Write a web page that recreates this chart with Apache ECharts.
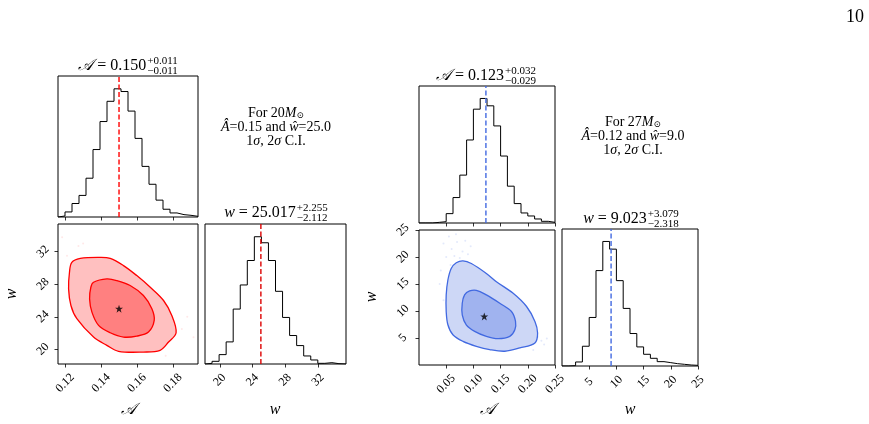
<!DOCTYPE html>
<html><head><meta charset="utf-8">
<script src="https://cdn.jsdelivr.net/npm/echarts@6/dist/echarts.min.js"></script>
<style>html,body{margin:0;padding:0;background:#fff}#c{width:869px;height:424px}</style>
</head><body><div id="c"></div><script>
// ---------------- data ----------------
const rangeA1 = [0.116, 0.194];
const rangeW1 = [18.2, 35.4];
const rangeA2 = [0, 0.25];
const rangeW2 = [0, 25];
const histA1 = [3,15,40,64,115,200,283,343,380,372,314,233,150,97,50,23,12,7,5,2];
const histW1 = [2,8,28,66,164,236,309,380,362,309,217,139,85,55,24,12,2,4,1,0];
const histA2 = [0,0,2,4,28,76,143,248,340,372,350,290,200,110,58,30,21,12,5,2];
const histW2 = [0,1,12,59,145,285,372,349,255,172,97,57,35,23,13,10,7,5,3,2];
const ticksA1 = [0.12,0.14,0.16,0.18];
const ticksW1 = [20,24,28,32];
const ticksA2 = [0.05,0.10,0.15,0.20,0.25];
const ticksW2 = [5,10,15,20,25];
const truth1 = [0.15, 25.0];
const truth2 = [0.12, 9.0];
const median1 = [0.150, 25.017];
const median2 = [0.123, 9.023];
const outer1 = [[0.1237,30.69],[0.1284,31.18],[0.1395,31.31],[0.1451,31.18],[0.1525,30.29],[0.1599,29.06],[0.1674,27.63],[0.1748,26.0],[0.1794,24.16],[0.1818,22.04],[0.1776,20.90],[0.1729,19.88],[0.1636,19.67],[0.1497,19.76],[0.1432,20.49],[0.1358,21.51],[0.1265,23.76],[0.1232,25.39],[0.1219,27.43],[0.1224,29.47]];
const inner1 = [[0.1358,28.24],[0.1432,28.65],[0.1488,28.45],[0.1562,27.84],[0.1636,26.61],[0.1683,24.98],[0.1696,23.55],[0.1664,22.12],[0.1599,21.63],[0.1525,21.51],[0.1451,22.04],[0.1386,22.94],[0.1349,24.57],[0.1336,26.20],[0.1343,27.63]];
const outer2 = [[0.0592,17.88],[0.0685,18.93],[0.0808,19.29],[0.0962,18.80],[0.1238,16.96],[0.1423,15.43],[0.1731,13.28],[0.1977,10.83],[0.2131,8.07],[0.2180,5.92],[0.2131,4.08],[0.1854,3.16],[0.1577,2.55],[0.1300,2.85],[0.1054,3.47],[0.0808,4.39],[0.0623,5.61],[0.0531,7.45],[0.0500,9.91],[0.0500,12.98],[0.0531,15.74]];
const inner2 = [[0.0838,12.98],[0.0931,13.71],[0.1054,13.83],[0.1238,12.98],[0.1485,11.44],[0.1700,9.91],[0.1774,8.07],[0.1762,6.53],[0.1669,5.31],[0.1454,4.88],[0.1238,5.31],[0.1023,6.23],[0.0869,7.45],[0.0795,9.29],[0.0795,11.44]];
const dots1 = [[0.1183,33.76],[0.1274,32.7],[0.185,22.5],[0.1915,21.5],[0.180,22.9],[0.188,24.0],[0.121,31.5],[0.176,19.2],[0.13,33.0]];
const dots2 = [[0.045,22.5],[0.055,23.8],[0.06,21.5],[0.065,20.2],[0.07,22.8],[0.075,19.8],[0.08,21.0],[0.085,23.0],[0.05,20.0],[0.058,18.5],[0.09,20.5],[0.04,17.5],[0.068,24.2],[0.095,22.0],[0.225,4.5],[0.23,3.8],[0.218,5.2],[0.235,4.9],[0.21,2.8],[0.038,15.0],[0.045,12.0]];

// ---------------- layout ----------------
const SERIF = '"Liberation Serif", "DejaVu Serif", serif';
const grids = [
  {left:58, top:76, width:140, height:141},
  {left:58, top:224, width:140, height:140},
  {left:205, top:224, width:141, height:140},
  {left:419, top:86, width:136, height:137},
  {left:419, top:230, width:136, height:135},
  {left:562, top:229, width:136, height:137}
].map(g => Object.assign({show:true, borderColor:'#000', borderWidth:1, backgroundColor:'transparent',
  containLabel:false, outerBoundsMode:'none'}, g));

function stepData(counts, range){
  const n = counts.length, w = (range[1]-range[0])/n;
  const d = [[range[0],0]];
  counts.forEach((c,i)=>d.push([range[0]+i*w, c]));
  d.push([range[1], counts[n-1]]);
  d.push([range[1], 0]);
  return d;
}
const maxOf = a => Math.max.apply(null, a);

function xAx(gi, range, ticks, showLabels, dec, margin){
  return {type:'value', gridIndex:gi, min:range[0], max:range[1], splitLine:{show:false},
    axisLine:{show:false},
    axisTick:{show:true, inside:false, length:3.5, lineStyle:{color:'#000', width:0.8}, customValues:ticks},
    axisLabel:{show:showLabels, customValues:ticks, rotate:45, align:'center', verticalAlign:'middle', margin:margin,
      formatter:v=>Number(v).toFixed(dec), fontFamily:SERIF, fontSize:12, color:'#000', hideOverlap:false}};
}
function yHist(gi, counts){
  return {type:'value', gridIndex:gi, min:0, max:1.1*maxOf(counts), show:true,
    axisLine:{show:false}, axisTick:{show:false}, axisLabel:{show:false}, splitLine:{show:false}};
}
function y2d(gi, range, ticks, margin){
  return {type:'value', gridIndex:gi, min:range[0], max:range[1], splitLine:{show:false},
    axisLine:{show:false},
    axisTick:{show:true, inside:false, length:3.5, lineStyle:{color:'#000', width:0.8}, customValues:ticks},
    axisLabel:{show:true, customValues:ticks, rotate:45, align:'center', verticalAlign:'middle', margin:margin,
      formatter:v=>String(Math.round(v)), fontFamily:SERIF, fontSize:12, color:'#000', hideOverlap:false}};
}

function histSeries(gi, counts, range){
  return {type:'line', xAxisIndex:gi, yAxisIndex:gi, step:'end', data:stepData(counts, range),
    symbol:'none', lineStyle:{color:'#000', width:1}, silent:true, z:3};
}
function vline(gi, x, counts, color){
  return {type:'line', xAxisIndex:gi, yAxisIndex:gi, data:[[x,0],[x,1.1*maxOf(counts)]],
    symbol:'none', lineStyle:{color:color, width:1.4, type:[5,2.5]}, silent:true, z:4};
}
function contour(gi, polys, fills, stroke){
  return {type:'custom', xAxisIndex:gi, yAxisIndex:gi, data:polys.map((p,i)=>[i]), silent:true, clip:true, z:3,
    renderItem:(params, api)=>{
      const pts = polys[params.dataIndex].map(p=>api.coord(p));
      return {type:'polygon', shape:{points:pts, smooth:0.35}, style:{fill:fills[params.dataIndex], stroke:stroke, lineWidth:1.3}};
    }};
}
function dots(gi, pts, color){
  return {type:'scatter', xAxisIndex:gi, yAxisIndex:gi, data:pts, symbolSize:2, itemStyle:{color:color}, silent:true, z:2};
}
function star(gi, p){
  return {type:'scatter', xAxisIndex:gi, yAxisIndex:gi, data:[p], symbol:'path://M0,-10 L2.35,-3.24 L9.51,-3.09 L3.8,1.24 L5.88,8.09 L0,4 L-5.88,8.09 L-3.8,1.24 L-9.51,-3.09 L-2.35,-3.24 Z',
    symbolSize:8, itemStyle:{color:'#000'}, silent:true, z:6};
}

// ---------------- titles / labels ----------------
const mctx = document.createElement('canvas').getContext('2d');
function tw(t, f){ mctx.font = f; return mctx.measureText(t).width; }
function mathTitle(cx, cy, varName, rest, sup, sub){
  const fv = 'italic 16px ' + SERIF, fm = '16px ' + SERIF, fs = '11px ' + SERIF;
  const wv = tw(varName, fv), wm = tw(rest, fm), ws = Math.max(tw(sup, fs), tw(sub, fs));
  const x0 = cx - (wv + wm + 1 + ws)/2;
  const mk = (t, x, y, f) => ({type:'text', x:x, y:y, silent:true,
    style:{text:t, font:f, fill:'#000', textAlign:'left', textVerticalAlign:'middle'}});
  return [mk(varName, x0, cy, fv), mk(rest, x0+wv, cy, fm),
          mk(sup, x0+wv+wm+1, cy-5, fs), mk(sub, x0+wv+wm+1, cy+5, fs)];
}
function note(cx, top, mass, ahat, what){
  return {type:'text', x:cx, y:top, silent:true,
    style:{text:'{n|For ' + mass + '}{i|M}{s|⊙}\n{i|Â}{n|=' + ahat + ' and }{i|ŵ}{n|=' + what + '}\n{n|1}{i|σ}{n|, 2}{i|σ}{n| C.I.}',
      textAlign:'center', textVerticalAlign:'top', fill:'#000', lineHeight:14,
      rich:{n:{fontFamily:SERIF, fontSize:14, lineHeight:14}, i:{fontFamily:SERIF, fontSize:14, fontStyle:'italic', lineHeight:14},
            s:{fontFamily:SERIF, fontSize:9, verticalAlign:'bottom', lineHeight:14}}}};
}
function axisName(t, x, y, rot){
  return {type:'text', x:x, y:y, rotation:rot||0, silent:true,
    style:{text:t, font:'italic 16px ' + SERIF, fill:'#000', textAlign:'center', textVerticalAlign:'middle'}};
}

const graphics = [].concat(
  mathTitle(128, 66, '𝒜', ' = 0.150', '+0.011', '\u22120.011'),
  mathTitle(276, 213, 'w', ' = 25.017', '+2.255', '\u22122.112'),
  mathTitle(486, 76, '𝒜', ' = 0.123', '+0.032', '\u22120.029'),
  mathTitle(631, 219, 'w', ' = 9.023', '+3.079', '\u22122.318'),
  [note(276, 106, '20', '0.15', '25.0'), note(633, 115, '27', '0.12', '9.0'),
   axisName('𝒜', 128, 410), axisName('w', 275, 410), axisName('w', 12, 294, Math.PI/2),
   axisName('𝒜', 487, 410), axisName('w', 630, 410), axisName('w', 372, 297, Math.PI/2),
   {type:'text', x:855, y:17, silent:true, style:{text:'10', font:'18px ' + SERIF, fill:'#000', textAlign:'center', textVerticalAlign:'middle'}}]
);

const option = {
  animation:false,
  backgroundColor:'#fff',
  grid:grids,
  xAxis:[
    xAx(0, rangeA1, ticksA1, false, 2, 19),
    xAx(1, rangeA1, ticksA1, true, 2, 19),
    xAx(2, rangeW1, ticksW1, true, 0, 16),
    xAx(3, rangeA2, ticksA2, false, 2, 19),
    xAx(4, rangeA2, ticksA2, true, 2, 19),
    xAx(5, rangeW2, ticksW2, true, 0, 16)
  ],
  yAxis:[
    yHist(0, histA1),
    y2d(1, rangeW1, ticksW1, 15),
    yHist(2, histW1),
    yHist(3, histA2),
    y2d(4, rangeW2, ticksW2, 16),
    yHist(5, histW2)
  ],
  series:[
    histSeries(0, histA1, rangeA1), vline(0, median1[0], histA1, '#ff0000'),
    dots(1, dots1, 'rgba(255,60,60,0.15)'),
    contour(1, [outer1, inner1], ['#ffc0c0', '#ff8080'], '#ff0000'),
    star(1, truth1),
    histSeries(2, histW1, rangeW1), vline(2, median1[1], histW1, '#dd0000'),
    histSeries(3, histA2, rangeA2), vline(3, median2[0], histA2, '#4169e1'),
    dots(4, dots2, 'rgba(65,105,225,0.18)'),
    contour(4, [outer2, inner2], ['#cdd7f6', '#a0b3ef'], '#4169e1'),
    star(4, truth2),
    histSeries(5, histW2, rangeW2), vline(5, median2[1], histW2, '#4169e1')
  ],
  graphic:graphics
};
const chart = echarts.init(document.getElementById('c'), null, {renderer:'canvas'});
chart.setOption(option);
</script></body></html>
